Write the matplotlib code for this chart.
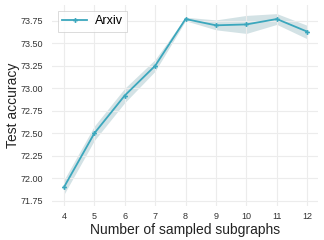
import numpy as np
import matplotlib
matplotlib.use('Agg')
import matplotlib.pyplot as plt

plt.rcParams['font.family'] = ['Liberation Sans', 'DejaVu Sans']

# число подграфов и точность
n_sub = [4, 5, 6, 7, 8, 9, 10, 11, 12]
acc = [71.90, 72.50, 72.92, 73.25, 73.77, 73.70, 73.71, 73.77, 73.63]
acc_lo = [71.82, 72.42, 72.84, 73.19, 73.75, 73.65, 73.61, 73.71, 73.55]
acc_hi = [71.98, 72.58, 73.00, 73.32, 73.79, 73.76, 73.81, 73.83, 73.70]

line_c = '#3ba7bd'
band_c = '#d3e2e5'

fig = plt.figure(figsize=(3.24, 2.4), dpi=100)
ax = fig.add_axes([0.16, 0.142, 0.822, 0.838])

ax.fill_between(n_sub, acc_lo, acc_hi, color=band_c, lw=0, zorder=1)
ax.plot(n_sub, acc, color=line_c, lw=1.3, marker='P', markersize=3.5,
        markeredgewidth=0, label='Arxiv', zorder=3)

ax.set_xlim(3.605, 12.36)
ax.set_ylim(71.694, 73.928)
ax.set_xticks(n_sub)
ax.set_yticks([71.75, 72.0, 72.25, 72.5, 72.75, 73.0, 73.25, 73.5, 73.75])
ax.set_yticklabels([f'{v:.2f}' for v in ax.get_yticks()])
ax.grid(True, color='#ececec', lw=0.8, zorder=0)
for s in ax.spines.values():
    s.set_visible(False)
ax.tick_params(axis='y', length=0, labelsize=6.5, colors='#333333', pad=6)
ax.tick_params(axis='x', length=0, labelsize=6.5, colors='#333333', pad=4.5)

ax.set_xlabel('Number of sampled subgraphs', fontsize=10, color='#222222', labelpad=1)
ax.set_ylabel('Test accuracy', fontsize=10, color='#222222', labelpad=1)

leg = ax.legend(loc='upper left', fontsize=9, frameon=True, fancybox=False,
                borderpad=0.35, handlelength=2.0, handletextpad=0.6,
                bbox_to_anchor=(0.0, 1.0))
leg.get_frame().set_edgecolor('#cccccc')
leg.get_frame().set_linewidth(0.6)

fig.savefig('out.png', dpi=100)
